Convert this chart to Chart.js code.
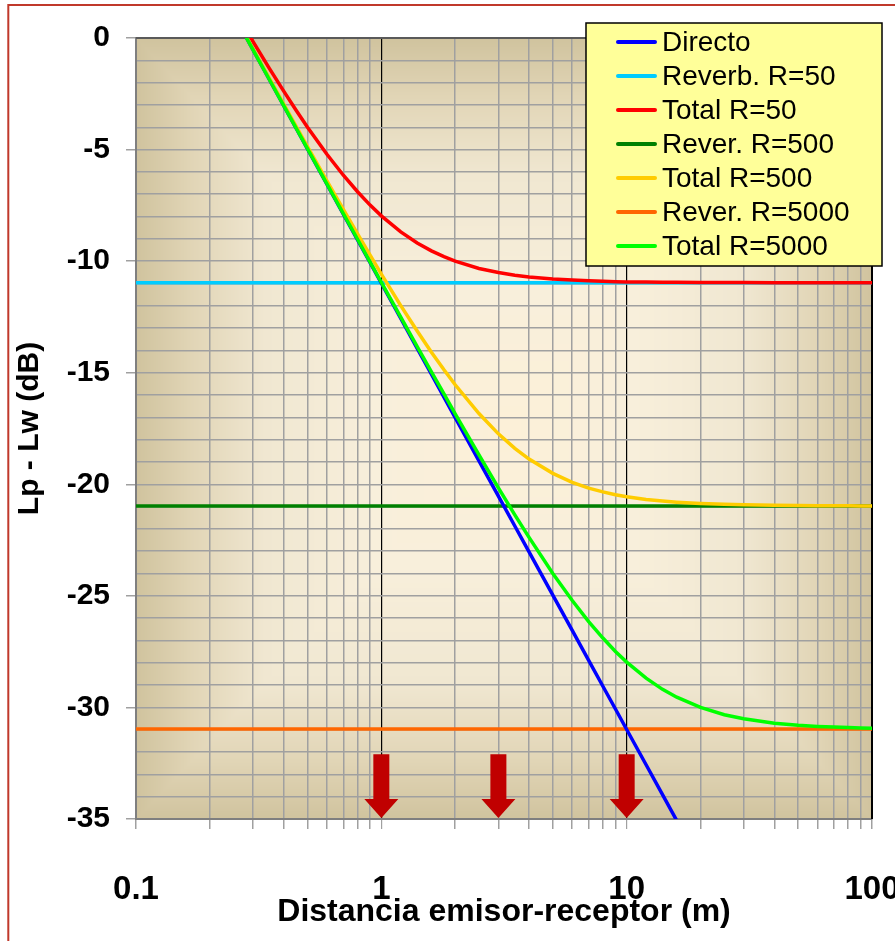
<!DOCTYPE html>
<html><head><meta charset="utf-8">
<script src="https://cdn.jsdelivr.net/npm/chart.js@4/dist/chart.umd.min.js"></script>
<style>html,body{margin:0;padding:0;background:#fff;}#wrap{width:895px;height:941px;position:relative;}</style>
</head><body><div id="wrap"><canvas id="c" width="895" height="941"></canvas></div>
<script>
// ---- data ----
const distances = [0.28,0.3,0.35,0.4,0.45,0.5,0.6,0.7,0.8,0.9,1,1.2,1.4,1.6,1.8,2,2.5,3,3.5,4,5,6,7,8,9,10,12,14,16,20,25,30,40,50,60,70,80,90,100];
const directo = [0.07,-0.53,-1.87,-3.03,-4.05,-4.97,-6.55,-7.89,-9.05,-10.07,-10.99,-12.57,-13.91,-15.07,-16.10,-17.01,-18.95,-20.53,-21.87,-23.03,-24.97,-26.55,-27.89,-29.05,-30.07,-30.99,-32.57,-33.91,-35.07];
const total50 = [0.39,-0.16,-1.37,-2.38,-3.25,-4.00,-5.21,-6.15,-6.89,-7.49,-7.97,-8.69,-9.19,-9.54,-9.80,-10.00,-10.33,-10.51,-10.63,-10.71,-10.80,-10.85,-10.88,-10.90,-10.92,-10.93,-10.94,-10.95,-10.95,-10.96,-10.96,-10.96,-10.97,-10.97,-10.97,-10.97,-10.97,-10.97,-10.97];
const total500 = [0.10,-0.50,-1.82,-2.96,-3.97,-4.87,-6.40,-7.68,-8.78,-9.73,-10.58,-11.99,-13.13,-14.08,-14.87,-15.54,-16.83,-17.74,-18.39,-18.87,-19.51,-19.91,-20.17,-20.34,-20.47,-20.56,-20.68,-20.75,-20.80,-20.86,-20.90,-20.92,-20.94,-20.95,-20.96,-20.96,-20.96,-20.97,-20.97];
const total5000 = [0.07,-0.53,-1.87,-3.03,-4.05,-4.96,-6.54,-7.87,-9.02,-10.04,-10.95,-12.51,-13.83,-14.96,-15.95,-16.84,-18.68,-20.16,-21.37,-22.38,-24.00,-25.21,-26.15,-26.89,-27.49,-27.97,-28.69,-29.19,-29.54,-30.00,-30.33,-30.51,-30.71,-30.80,-30.85,-30.88,-30.90,-30.92,-30.93];
const reverbX = [0.1, 100];
const reverb50 = [-10.97, -10.97];
const reverb500 = [-20.97, -20.97];
const reverb5000 = [-30.97, -30.97];
const seriesLabels = ['Directo','Reverb. R=50','Total R=50','Rever. R=500','Total R=500','Rever. R=5000','Total R=5000'];
const xTickValues = [0.1,0.2,0.3,0.4,0.5,0.6,0.7,0.8,0.9,1,2,3,4,5,6,7,8,9,10,20,30,40,50,60,70,80,90,100];
const xLabelValues = [0.1,1,10,100];
const decadeLines = [1,10];
const yMin = -35, yMax = 0, yStep = 1, yLabelEvery = 5;
const arrowX = [1,3,10];
const arrowTopY = -32.1, arrowHeadY = -34.1, arrowTipY = -34.95;

function pts(xs, ys){ return ys.map((y,i)=>({x:xs[i], y:y})); }

// ---- plugins ----
const bgPlugin = {
  id:'bg',
  beforeDraw(chart){
    const ctx = chart.ctx, a = chart.chartArea;
    ctx.save();
    ctx.fillStyle='#fff'; ctx.fillRect(0,0,chart.width,chart.height);
    const L=Math.round(a.left), T=Math.round(a.top), R=Math.round(a.right), B=Math.round(a.bottom);
    const w=R-L, h=B-T, cx=w*0.5, cy=h*0.5;
    const stops=[[0,[208,195,158]],[0.15,[225,213,182]],[0.35,[240,231,209]],[0.65,[248,239,219]],[1,[252,240,216]]];
    function col(s){
      for(let k=1;k<stops.length;k++){
        if(s<=stops[k][0]){const a0=stops[k-1],a1=stops[k];const f=(s-a0[0])/(a1[0]-a0[0]);
          return [a0[1][0]+(a1[1][0]-a0[1][0])*f,a0[1][1]+(a1[1][1]-a0[1][1])*f,a0[1][2]+(a1[1][2]-a0[1][2])*f];}
      }
      return stops[stops.length-1][1];
    }
    const img = ctx.createImageData(w,h), d=img.data;
    for(let y=0;y<h;y++){
      const ty=Math.abs(y-cy)/cy;
      for(let x=0;x<w;x++){
        const tx=Math.abs(x-cx)/cx;
        const c=col(1-Math.max(tx,ty));
        const o=(y*w+x)*4; d[o]=c[0]; d[o+1]=c[1]; d[o+2]=c[2]; d[o+3]=255;
      }
    }
    ctx.putImageData(img,L,T);
    ctx.strokeStyle='#c0392b'; ctx.lineWidth=2;
    ctx.strokeRect(8.3,5,chart.width+20,chart.height+20);
    ctx.restore();
  }
};
const framePlugin = {
  id:'frame',
  beforeDatasetsDraw(chart){
    const ctx=chart.ctx,a=chart.chartArea;
    ctx.save();
    ctx.lineWidth=2;
    ctx.strokeStyle='#5a5a5a';
    ctx.beginPath(); ctx.moveTo(a.left,a.top); ctx.lineTo(a.right,a.top); ctx.stroke();
    ctx.strokeStyle='#000';
    ctx.beginPath(); ctx.moveTo(a.right,a.top); ctx.lineTo(a.right,a.bottom); ctx.stroke();
    ctx.restore();
  }
};
const arrowPlugin = {
  id:'arrows',
  afterDatasetsDraw(chart){
    const xs=chart.scales.x, ys=chart.scales.y, ctx=chart.ctx;
    ctx.save(); ctx.fillStyle='#c00000';
    arrowX.forEach(v=>{
      const x=xs.getPixelForValue(v);
      const yt=ys.getPixelForValue(arrowTopY), yh=ys.getPixelForValue(arrowHeadY), yb=ys.getPixelForValue(arrowTipY);
      ctx.beginPath();
      ctx.moveTo(x-8,yt); ctx.lineTo(x+8,yt); ctx.lineTo(x+8,yh); ctx.lineTo(x+17,yh);
      ctx.lineTo(x,yb); ctx.lineTo(x-17,yh); ctx.lineTo(x-8,yh); ctx.closePath(); ctx.fill();
    });
    ctx.restore();
  }
};
const legendPlugin = {
  id:'customLegend',
  afterDraw(chart){
    const ctx=chart.ctx;
    ctx.save();
    ctx.fillStyle='#ffff99'; ctx.strokeStyle='#000'; ctx.lineWidth=1.5;
    ctx.fillRect(586,23,296,243); ctx.strokeRect(586,23,296,243);
    ctx.font='28px "Liberation Sans", Arial, sans-serif';
    ctx.textBaseline='middle'; ctx.textAlign='left';
    chart.data.datasets.forEach((ds,i)=>{
      const y=42+i*34;
      ctx.strokeStyle=ds.borderColor; ctx.lineWidth=4; ctx.lineCap='round';
      ctx.beginPath(); ctx.moveTo(618,y); ctx.lineTo(655,y); ctx.stroke();
      ctx.fillStyle='#000'; ctx.fillText(ds.label,662,y+1);
    });
    ctx.restore();
  }
};

const mk = (label,color,data,order,width)=>({label, data, borderColor:color, backgroundColor:color, borderWidth:width, pointRadius:0, tension:0, fill:false, order});

new Chart(document.getElementById('c'), {
  type:'line',
  data:{datasets:[
    mk(seriesLabels[0],'#0000ff',pts(distances,directo),3,3.5),
    mk(seriesLabels[1],'#00ccff',pts(reverbX,reverb50),6,3.5),
    mk(seriesLabels[2],'#ff0000',pts(distances,total50),2,3.5),
    mk(seriesLabels[3],'#008000',pts(reverbX,reverb500),5,3.5),
    mk(seriesLabels[4],'#ffcc00',pts(distances,total500),1,3.5),
    mk(seriesLabels[5],'#ff6600',pts(reverbX,reverb5000),4,3.5),
    mk(seriesLabels[6],'#00ff00',pts(distances,total5000),0,3.5)
  ]},
  options:{
    responsive:false, animation:false, events:[],
    layout:{padding:{left:0,top:38,right:23,bottom:0}},
    plugins:{legend:{display:false},tooltip:{enabled:false},title:{display:false}},
    scales:{
      x:{
        type:'logarithmic', min:0.1, max:100,
        afterBuildTicks:s=>{ s.ticks = xTickValues.map(v=>({value:v})); },
        afterFit:s=>{ s.height=122; s.paddingLeft=0; s.paddingRight=0; },
        grid:{
          color:c=>(c.tick && decadeLines.includes(c.tick.value))?'#000':'#a0a0a0',
          lineWidth:c=>(c.tick && decadeLines.includes(c.tick.value))?1.2:1.5,
          tickColor:'#a0a0a0', tickLength:10
        },
        border:{color:'#7f7f7f',width:2},
        ticks:{autoSkip:false,maxRotation:0,minRotation:0,padding:41,color:'#000',
          font:{family:'"Liberation Sans", Arial',size:33,weight:'bold'},
          callback:v=>xLabelValues.includes(v)?String(v):''},
        title:{display:true,text:'Distancia emisor-receptor (m)',color:'#000',
          font:{family:'"Liberation Sans", Arial',size:32,weight:'bold'},padding:{top:0,bottom:10}}
      },
      y:{
        min:yMin, max:yMax,
        afterFit:s=>{ s.width=136; },
        grid:{color:'#a0a0a0',lineWidth:1.5,tickLength:10,
          tickColor:c=>(c.tick && c.tick.value%yLabelEvery===0)?'#a0a0a0':'rgba(0,0,0,0)'},
        border:{color:'#7f7f7f',width:2},
        ticks:{stepSize:yStep,autoSkip:false,padding:16,color:'#000',
          font:{family:'"Liberation Sans", Arial',size:30,weight:'bold'},
          callback:v=>(v%yLabelEvery===0)?String(v):''},
        title:{display:true,text:'Lp - Lw (dB)',color:'#000',
          font:{family:'"Liberation Sans", Arial',size:30,weight:'bold'},padding:{top:12,bottom:0}}
      }
    }
  },
  plugins:[bgPlugin,framePlugin,arrowPlugin,legendPlugin]
});
</script></body></html>
